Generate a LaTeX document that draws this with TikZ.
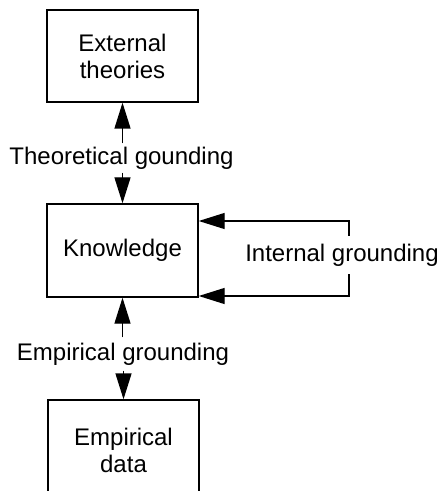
\documentclass[tikz,border=0pt]{standalone}
\usepackage{fontspec}
\setmainfont{Liberation Sans}
\usetikzlibrary{arrows.meta}

\begin{document}
\begin{tikzpicture}[x=0.5pt,y=-0.5pt,
		every node/.style={font=\fontsize{12}{13.5}\selectfont},
		box/.style={draw, line width=0.7pt, minimum width=75.5pt, minimum height=46pt, align=center, inner sep=0pt},
		lab/.style={inner xsep=0pt, inner ysep=1.5pt},
		arr/.style={line width=0.7pt, -{Triangle[length=13pt,width=8pt]}}]
					\path[use as bounding box] (0,0) rectangle (440,491);
					\clip (0,0) rectangle (440,491);
					
					\node[box] (ext) at (122.5,56) {External\\theories};
					\node[box, minimum height=46.5pt] (know) at (122.5,250.5) {Knowledge};
					\node[box, minimum height=50pt] (emp) at (123.5,450) {Empirical\\data};
					
					\node[lab] (theo) at (121.5,158) {Theoretical gounding};
					\node[lab, inner ysep=2.5pt] (empg) at (123,354) {Empirical grounding};
					\node[lab, inner ysep=3.8pt] (intg) at (342,255) {Internal grounding};
					
					\draw[arr] (theo.north -| ext.south) -- (ext.south);
					\draw[arr] (theo.south -| know.north) -- (know.north);
					\draw[arr] (empg.north -| know.south) -- (know.south);
					\draw[arr] (empg.south -| emp.north) -- (emp.north);
					
					\coordinate (in1) at (349,221);
					\coordinate (in2) at (349,296);
					\draw[arr] (in1 |- intg.north) -- (in1) -- (in1 -| know.east);
					\draw[arr] (in2 |- intg.south) -- (in2) -- (in2 -| know.east);
					%\node at (349,258) {};
					
				\end{tikzpicture}
\end{document}
